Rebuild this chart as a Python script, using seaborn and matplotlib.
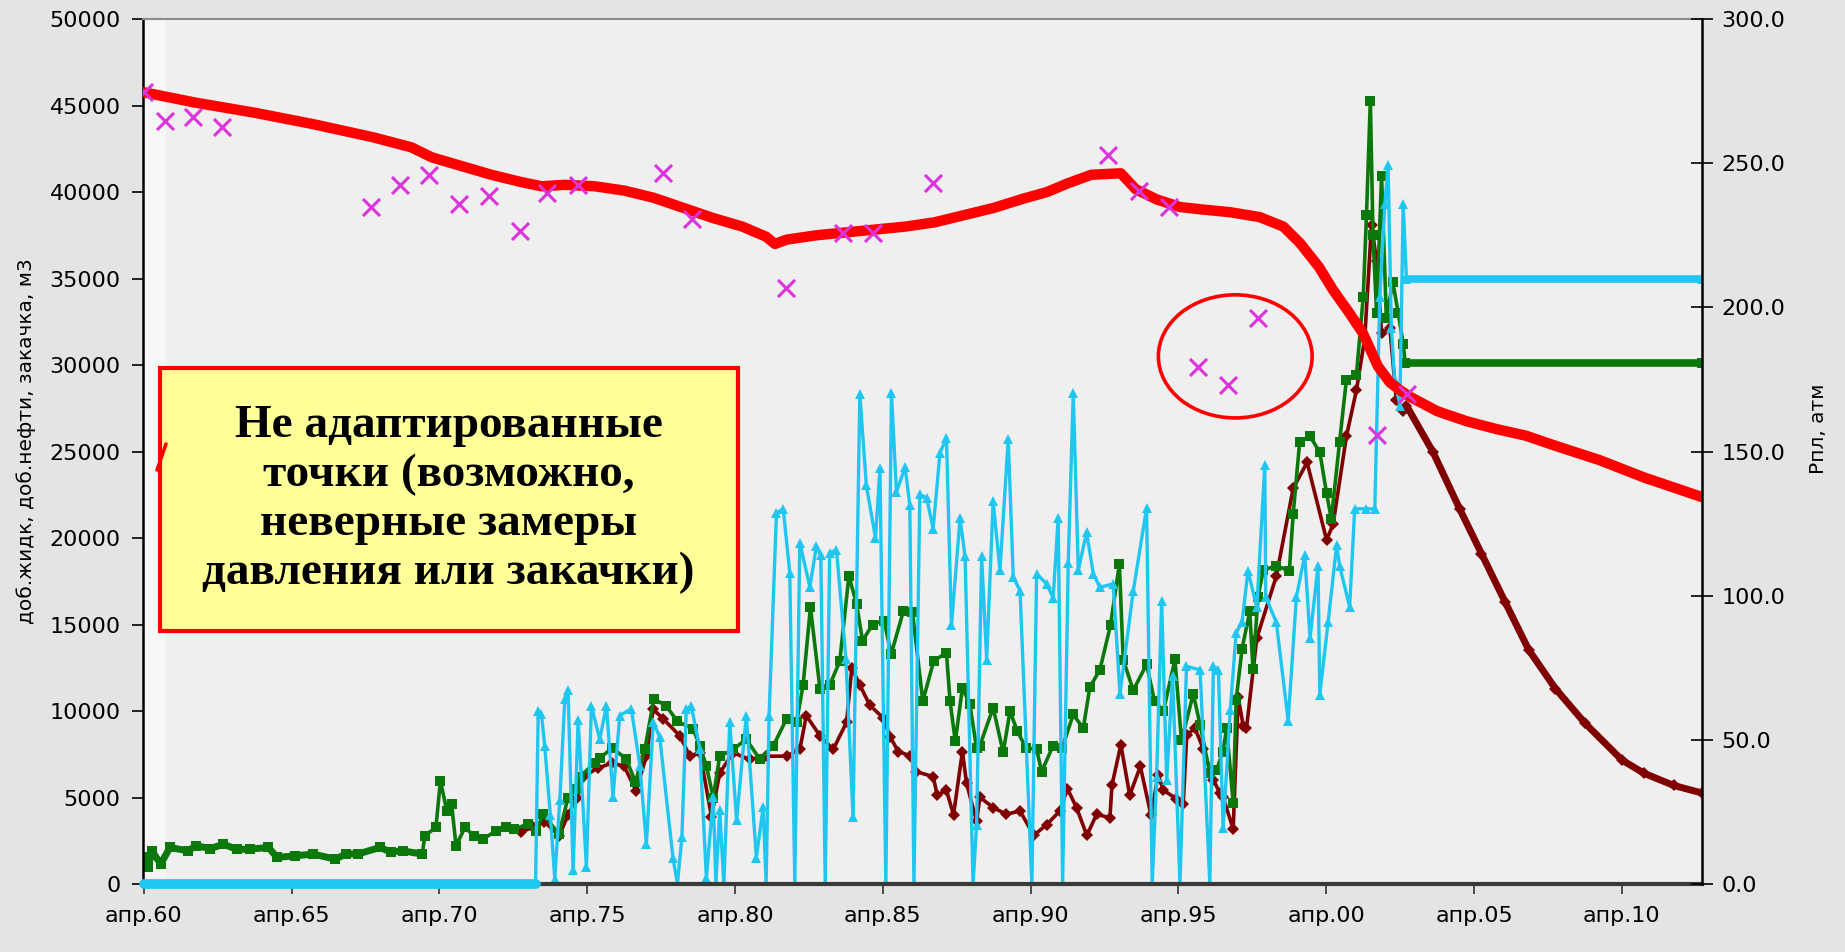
import numpy as np
import matplotlib
matplotlib.use('Agg')
import matplotlib.pyplot as plt
import seaborn as sns
from matplotlib.patches import Ellipse, Rectangle
from matplotlib.lines import Line2D

# Годы (десятичные), значения
liq_year = np.array([
    1960.25, 1960.4, 1960.52, 1960.82, 1961.13, 1961.73, 1962.03, 1962.5, 1962.94, 1963.4,
    1963.85, 1964.46, 1964.76, 1965.36, 1965.97, 1966.73, 1967.1, 1967.48, 1968.24, 1968.6,
    1969.0, 1969.67, 1969.75, 1970.13, 1970.28, 1970.5, 1970.66, 1970.81, 1971.11, 1971.41,
    1971.72, 1972.17, 1972.5, 1972.78, 1973.23, 1973.53, 1973.76, 1974.29, 1974.6, 1974.9,
    1975.0, 1975.5, 1975.67, 1976.1, 1976.56, 1976.88, 1977.2, 1977.5, 1977.92, 1978.3,
    1978.83, 1979.06, 1979.28, 1979.51, 1979.73, 1980.18, 1980.63, 1981.09, 1981.54, 1981.99,
    1982.33, 1982.55, 1982.8, 1983.12, 1983.45, 1983.79, 1984.1, 1984.36, 1984.56, 1984.9,
    1985.29, 1985.53, 1985.94, 1986.25, 1986.6, 1986.97, 1987.4, 1987.52, 1987.7, 1987.94,
    1988.19, 1988.42, 1988.53, 1988.98, 1989.32, 1989.55, 1989.8, 1990.1, 1990.45, 1990.62,
    1991.01, 1991.31, 1991.69, 1992.03, 1992.25, 1992.59, 1992.95, 1993.25, 1993.38, 1993.72,
    1994.17, 1994.44, 1994.74, 1995.13, 1995.35, 1995.75, 1995.98, 1996.31, 1996.54, 1996.75,
    1996.88, 1997.1, 1997.2, 1997.4, 1997.66, 1997.77, 1997.94, 1998.12, 1998.56, 1999.0,
    1999.13, 1999.35, 1999.7, 2000.03, 2000.26, 2000.42, 2000.7, 2000.93, 2001.27, 2001.5,
    2001.61, 2001.74, 2001.83, 2001.95, 2002.12, 2002.28, 2002.5, 2002.68, 2002.85, 2002.92,
    2012.96])
liq_val = np.array([
    1540, 960, 1920, 1150, 2115, 1920, 2210, 2050, 2300, 2000,
    2020, 2115, 1540, 1630, 1730, 1440, 1750, 1730, 2115, 1850,
    1920, 1730, 2790, 3270, 5960, 4230, 4615, 2210, 3270, 2790,
    2600, 3080, 3300, 3170, 3460, 3080, 4040, 2885, 5000, 5500,
    6200, 7000, 7300, 7850, 7250, 5900, 7800, 10700, 10300, 9400,
    8960, 7980, 6810, 5000, 7390, 7780, 8370, 7200, 7980, 9545,
    9350, 11500, 16000, 11300, 11500, 12870, 17800, 16200, 14060, 15000,
    15230, 13290, 15760, 15710, 10570, 12900, 13370, 10590, 8240, 11350,
    10390, 7850, 8000, 10190, 7610, 9990, 8820, 7850, 7800, 6500,
    8000, 7850, 9800, 9000, 11380, 12380, 14960, 18500, 12970, 11200,
    12700, 10570, 10000, 12980, 8300, 10990, 9200, 6400, 6610, 7650,
    9000, 4670, 10640, 13600, 15760, 12430, 16610, 18140, 18400, 18100,
    21400, 25570, 25870, 24970, 22580, 21090, 25570, 29150, 29450, 33930,
    38700, 45280, 37510, 33030, 40940, 32740, 34800, 33030, 31240, 30110,
    30110])

oil_year = np.array([
    1973.0, 1973.42, 1973.8, 1974.3, 1974.6, 1974.9, 1975.1, 1975.6, 1976.1, 1976.5,
    1976.9, 1977.25, 1977.48, 1977.82, 1978.38, 1978.72, 1979.06, 1979.45, 1979.73, 1980.18,
    1980.75, 1981.31, 1981.99, 1982.44, 1982.66, 1983.12, 1983.57, 1984.02, 1984.2, 1984.47,
    1984.81, 1985.26, 1985.5, 1985.77, 1986.17, 1986.37, 1986.95, 1987.09, 1987.4, 1987.64,
    1987.94, 1988.08, 1988.42, 1988.53, 1988.98, 1989.43, 1989.89, 1990.35, 1990.79, 1991.24,
    1991.49, 1991.8, 1992.15, 1992.48, 1992.93, 1993.0, 1993.3, 1993.6, 1993.96, 1994.32,
    1994.56, 1994.74, 1995.17, 1995.41, 1995.53, 1995.81, 1996.09, 1996.43, 1996.65, 1996.76,
    1997.1, 1997.27, 1997.44, 1997.55, 1997.9, 1998.56, 1999.13, 1999.6, 2000.26, 2000.48,
    2000.93, 2001.27, 2001.55, 2001.78, 2001.95, 2002.12, 2002.4, 2002.62, 2002.85, 2002.96,
    2003.86, 2004.76, 2005.5, 2006.3, 2007.1, 2008.0, 2009.0, 2010.25, 2011.0, 2012.0,
    2012.96])
oil_val = np.array([
    3000, 3290, 3600, 2800, 4000, 5000, 6200, 6700, 7000, 6800,
    5400, 7390, 10100, 9545, 8570, 7390, 7590, 3900, 6420, 7590,
    7200, 7390, 7390, 7780, 9740, 8570, 7780, 9350, 12500, 11500,
    10330, 9600, 8500, 7660, 7410, 6500, 6210, 5140, 5420, 4000,
    7660, 5820, 3630, 5020, 4420, 4030, 4230, 2810, 3430, 4230,
    5520, 4420, 2810, 4030, 3830, 5720, 8050, 5140, 6800, 3970,
    6300, 5420, 4940, 4620, 8630, 9000, 7800, 6020, 5260, 5020,
    3170, 10790, 9140, 9000, 14220, 17800, 22880, 24370, 19890, 20790,
    25870, 28550, 31540, 38110, 36020, 31840, 32140, 27960, 27360, 27660,
    24970, 21690, 19100, 16300, 13530, 11300, 9300, 7170, 6400, 5700,
    5260])

inj_year = np.array([
    1960.25, 1973.5, 1973.59, 1973.7, 1973.81, 1974.0, 1974.15, 1974.32, 1974.49, 1974.6,
    1974.77, 1974.94, 1975.22, 1975.39, 1975.67, 1975.9, 1976.12, 1976.35, 1976.74, 1977.03,
    1977.25, 1977.48, 1977.7, 1978.15, 1978.3, 1978.45, 1978.6, 1978.77, 1979.06, 1979.28,
    1979.51, 1979.6, 1979.73, 1979.87, 1980.07, 1980.3, 1980.63, 1980.97, 1981.2, 1981.3,
    1981.4, 1981.65, 1981.88, 1982.1, 1982.27, 1982.44, 1982.78, 1983.0, 1983.15, 1983.3,
    1983.45, 1983.68, 1984.0, 1984.24, 1984.47, 1984.69, 1985.0, 1985.15, 1985.35, 1985.54,
    1985.71, 1986.0, 1986.16, 1986.3, 1986.5, 1986.73, 1986.95, 1987.18, 1987.4, 1987.57,
    1987.86, 1988.03, 1988.3, 1988.42, 1988.59, 1988.76, 1988.98, 1989.21, 1989.49, 1989.66,
    1989.89, 1990.29, 1990.45, 1990.79, 1991.01, 1991.18, 1991.33, 1991.52, 1991.69, 1991.86,
    1992.14, 1992.37, 1992.59, 1993.04, 1993.27, 1993.72, 1994.17, 1994.36, 1994.51, 1994.68,
    1994.85, 1995.05, 1995.3, 1995.52, 1995.98, 1996.31, 1996.43, 1996.6, 1996.76, 1997.0,
    1997.2, 1997.4, 1997.6, 1997.9, 1998.17, 1998.2, 1998.56, 1998.96, 1999.24, 1999.52,
    1999.7, 1999.97, 2000.03, 2000.31, 2000.6, 2000.7, 2001.04, 2001.21, 2001.61, 2001.89,
    2002.06, 2002.23, 2002.34, 2002.45, 2002.56, 2002.74, 2002.85, 2002.96, 2012.96])
inj_val = np.array([
    0, 0, 10000, 9800, 7980, 4000, 300, 4850, 10700, 11200,
    800, 9500, 1000, 10300, 8370, 10300, 5040, 9740, 10130, 6810,
    2300, 9350, 8500, 1500, 0, 2700, 10100, 10300, 7780, 350,
    5040, 0, 4270, 0, 9350, 3680, 9740, 1530, 4460, 0,
    9740, 21475, 21670, 18000, 0, 19720, 17170, 19520, 19000, 0,
    19130, 19330, 13000, 3870, 28320, 23040, 20000, 24020, 0, 28380,
    22650, 24100, 21920, 0, 22520, 22320, 20530, 24900, 25800, 14960,
    21130, 18940, 0, 3430, 18940, 12970, 22120, 18140, 25700, 17750,
    16950, 0, 17940, 17350, 16550, 21130, 0, 18540, 28380, 18140,
    20330, 17940, 17150, 17350, 10990, 16950, 21720, 0, 6210, 16350,
    6020, 12000, 0, 12580, 12380, 0, 12580, 12400, 3230, 10040,
    14520, 15120, 18100, 16000, 24220, 16610, 15120, 9440, 16610, 19000,
    14220, 18400, 10940, 15120, 19600, 18400, 16010, 21690, 21690, 21690,
    33930, 39300, 41540, 32140, 29150, 27660, 39300, 35000, 35000])

# Пластовое давление (расчёт), атм
p_year = np.array([
    1960.25, 1962, 1964, 1966, 1968, 1969.3, 1970, 1971, 1972, 1973,
    1973.7, 1974.5, 1975.5, 1976.5, 1977.5, 1978.5, 1979.5, 1980.5, 1981.3, 1981.6,
    1982, 1983, 1984, 1985, 1986, 1987, 1988, 1989, 1990, 1990.8,
    1991.5, 1992.3, 1993.3, 1993.8, 1994.5, 1995.3, 1996, 1997, 1998, 1998.8,
    1999.36, 2000, 2000.48, 2001, 2001.49, 2002, 2002.4, 2002.74, 2003.08, 2004,
    2005, 2006, 2007, 2008, 2009.5, 2011, 2012.96])
p_val = np.array([
    274.6, 271, 267.5, 263.5, 259, 255.5, 252, 249, 246, 243.5,
    242, 242.5, 242, 240.5, 238, 234.5, 231, 228, 224.5, 222,
    223.5, 225, 226, 227, 228, 229.5, 232, 234.5, 237.7, 240,
    243, 246, 246.5, 241, 237.5, 234.8, 234, 233, 231.3, 228,
    222.3, 214, 206, 198.5, 191, 179.5, 174, 171.3, 169, 164,
    160.5, 157.8, 155.5, 152, 147, 141, 134.2])

# Замеры давления
pm_year = np.array([
    1960.25, 1960.97, 1961.92, 1962.88, 1967.95, 1968.9, 1969.9, 1970.9, 1971.93, 1972.97,
    1973.9, 1974.95, 1977.8, 1978.8, 1981.98, 1983.9, 1984.9, 1986.95, 1992.85, 1993.9,
    1994.94, 1995.91, 1996.92, 1997.94, 2001.95, 2002.98])
pm_val = np.array([
    274.6, 264.8, 266, 262.7, 234.8, 242.6, 245.9, 235.7, 238.5, 226.6,
    239.8, 242.6, 246.7, 230.7, 206.6, 225.8, 225.8, 243, 252.9, 240.2,
    234.8, 179.3, 173.1, 196.3, 155.7, 170])

tick_years = [1960.25 + 5 * i for i in range(11)]
tick_labels = ['апр.60', 'апр.65', 'апр.70', 'апр.75', 'апр.80', 'апр.85',
               'апр.90', 'апр.95', 'апр.00', 'апр.05', 'апр.10']

note_text = 'Не адаптированные\nточки (возможно,\nневерные замеры\nдавления или закачки)'

sns.set_theme(style='white')
plt.rcParams['font.family'] = ['DejaVu Sans']
plt.rcParams['text.color'] = 'black'

fig = plt.figure(figsize=(18.45, 9.52), dpi=100, facecolor='#e4e4e4')
ax = fig.add_axes([0.0775, 0.0714, 0.845, 0.9086])
ax.set_facecolor('#efefef')
ax.axvspan(1960.22, 1961.0, color='#f6f6f6', lw=0, zorder=0)
ax2 = ax.twinx()

c_oil = '#800000'
c_liq = '#0a780a'
c_inj = '#1ec6f0'

# добыча нефти
sns.lineplot(x=oil_year, y=oil_val, ax=ax, color=c_oil, marker='D', markersize=6.5,
             markeredgewidth=0, linewidth=2.6, sort=False, estimator=None)
m = oil_year >= 2002.96
ax.plot(oil_year[m], oil_val[m], color=c_oil, linewidth=5, solid_capstyle='round')

# добыча жидкости
sns.lineplot(x=liq_year, y=liq_val, ax=ax, color=c_liq, marker='s', markersize=7.5,
             markeredgewidth=0, linewidth=2.6, sort=False, estimator=None)
m = liq_year >= 2002.92
ax.plot(liq_year[m], liq_val[m], color=c_liq, linewidth=5.5)
m = liq_year <= 1969.7
ax.plot(liq_year[m], liq_val[m], color=c_liq, linewidth=5)

# закачка
sns.lineplot(x=inj_year, y=inj_val, ax=ax, color=c_inj, marker='^', markersize=6.5,
             markeredgewidth=0, linewidth=2.4, sort=False, estimator=None)
m = inj_year >= 2002.96
ax.plot(inj_year[m], inj_val[m], color=c_inj, linewidth=5.5)
m = inj_year <= 1973.5
ax.plot(inj_year[m], inj_val[m], color=c_inj, linewidth=7, clip_on=False, zorder=4)

# давление
sns.lineplot(x=p_year, y=p_val, ax=ax2, color='#ff0000', linewidth=7.5, sort=False,
             estimator=None)
sns.scatterplot(x=pm_year, y=pm_val, ax=ax2, marker='x', s=150, color='#dd33dd',
                linewidth=2.2, zorder=5)

ax.set_xlim(1960.22, 2012.96)
ax.set_ylim(0, 50000)
ax.set_yticks(range(0, 50001, 5000))
ax.set_yticklabels([str(v) for v in range(0, 50001, 5000)])
ax.set_xticks(tick_years)
ax.set_xticklabels(tick_labels)
ax.set_xlabel('')
ax.set_ylabel('')

ax2.set_ylim(0, 300)
ax2.set_yticks(np.arange(0, 301, 50))
ax2.set_yticklabels([f'{v:.1f}' for v in np.arange(0, 301, 50)])
ax2.set_xlabel('')
ax2.set_ylabel('')

ax.tick_params(axis='y', left=True, direction='out', length=8, width=1.2,
               color='black', labelsize=16, pad=8, labelcolor='black')
ax.tick_params(axis='x', bottom=True, direction='out', length=7, width=1.2,
               color='#333333', labelsize=16, pad=9, labelcolor='black')
ax2.tick_params(axis='y', right=True, direction='inout', length=16, width=1.2,
                color='black', labelsize=16, pad=6, labelcolor='black')

for s in ['top', 'bottom', 'left', 'right']:
    ax2.spines[s].set_visible(s == 'right')
ax2.spines['right'].set_color('black')
ax2.spines['right'].set_linewidth(1.8)
ax.spines['right'].set_visible(False)
ax.spines['left'].set_color('black')
ax.spines['left'].set_linewidth(1.8)
ax.spines['top'].set_color('#8a8a8a')
ax.spines['top'].set_linewidth(1.5)
ax.spines['bottom'].set_color('#3a3a3a')
ax.spines['bottom'].set_linewidth(3)
ax.spines['bottom'].set_zorder(3)

# подписи осей
fig.text(26 / 1845, 1 - 441 / 952, 'доб.жидк, доб.нефти, закачка, м3', rotation=90,
         ha='center', va='center', fontsize=14.5, color='black')
fig.text(1819 / 1845, 1 - 429 / 952, 'Рпл, атм', rotation=90,
         ha='center', va='center', fontsize=14.5, color='black')

# выноска
rect = Rectangle((0.0109, 0.2925), 0.3708, 0.304, transform=ax2.transAxes,
                 facecolor='#ffff99', edgecolor='#ff0000', linewidth=3, zorder=10)
ax2.add_patch(rect)
ax2.text(0.196, 0.4445, note_text, transform=ax2.transAxes, ha='center', va='center',
         fontsize=34, fontweight='bold', family=['Liberation Serif', 'DejaVu Serif'],
         linespacing=1.22, color='black', zorder=11)
ax2.add_patch(Ellipse((1997.17, 183), 5.2, 42.7, fill=False, edgecolor='#ff0000',
                      linewidth=2.6, zorder=12))
fig.add_artist(Line2D([157 / 1845, 166 / 1845], [1 - 470 / 952, 1 - 444 / 952],
                      color='#ff0000', linewidth=2.5))

fig.savefig('out.png', dpi=100, facecolor=fig.get_facecolor())
